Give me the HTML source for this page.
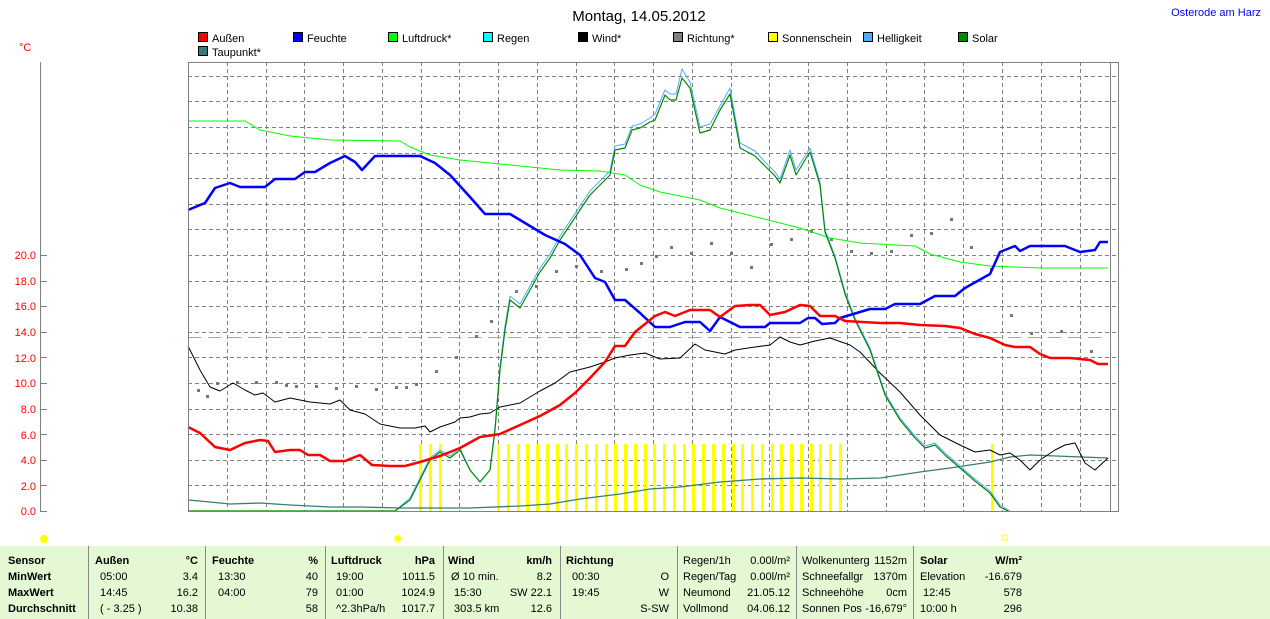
<!DOCTYPE html>
<html><head><meta charset="utf-8"><style>
body{margin:0;width:1270px;height:619px;background:#fff;overflow:hidden;font-family:"Liberation Sans",sans-serif;position:relative}
.t{position:absolute;font-size:11px;white-space:nowrap;line-height:16px}
.b{font-weight:bold}
.r{text-align:right}
#panel{position:absolute;left:0;top:546px;width:1270px;height:73px;background:#e4f8d4}
.sep{position:absolute;top:546px;width:1px;height:73px;background:#888}
</style></head><body>
<svg width="1270" height="546" style="position:absolute;left:0;top:0" font-family="Liberation Sans, sans-serif">
<text x="639" y="21" font-size="15" text-anchor="middle" fill="#000">Montag, 14.05.2012</text>
<text x="1261" y="16" font-size="11" text-anchor="end" fill="#0000ff">Osterode am Harz</text>
<text x="19" y="51" font-size="11" fill="#f00">°C</text>
<g font-size="11" fill="#000">
<rect x="198.5" y="32.5" width="9" height="9" fill="#f00" stroke="#000"/><text x="212" y="42">Außen</text>
<rect x="293.5" y="32.5" width="9" height="9" fill="#00f" stroke="#000"/><text x="307" y="42">Feuchte</text>
<rect x="388.5" y="32.5" width="9" height="9" fill="#0f0" stroke="#000"/><text x="402" y="42">Luftdruck*</text>
<rect x="483.5" y="32.5" width="9" height="9" fill="#0ff" stroke="#000"/><text x="497" y="42">Regen</text>
<rect x="578.5" y="32.5" width="9" height="9" fill="#000" stroke="#000"/><text x="592" y="42">Wind*</text>
<rect x="673.5" y="32.5" width="9" height="9" fill="#808080" stroke="#000"/><text x="687" y="42">Richtung*</text>
<rect x="768.5" y="32.5" width="9" height="9" fill="#ff0" stroke="#000"/><text x="782" y="42">Sonnenschein</text>
<rect x="863.5" y="32.5" width="9" height="9" fill="#5af" stroke="#000"/><text x="877" y="42">Helligkeit</text>
<rect x="958.5" y="32.5" width="9" height="9" fill="#080" stroke="#000"/><text x="972" y="42">Solar</text>
<rect x="198.5" y="46.5" width="9" height="9" fill="#3a7a78" stroke="#000"/><text x="212" y="56">Taupunkt*</text>
</g>
<line x1="40.5" y1="62" x2="40.5" y2="512" stroke="#808080"/>
<g fill="#f00" font-size="11" text-anchor="end">
<text x="36" y="515">0.0</text><text x="36" y="490">2.0</text><text x="36" y="464">4.0</text><text x="36" y="439">6.0</text><text x="36" y="413">8.0</text><text x="36" y="387">10.0</text><text x="36" y="362">12.0</text><text x="36" y="336">14.0</text><text x="36" y="310">16.0</text><text x="36" y="285">18.0</text><text x="36" y="259">20.0</text>
</g>
<g stroke="#808080"><line x1="40" y1="511.5" x2="47" y2="511.5"/><line x1="40" y1="485.5" x2="47" y2="485.5"/><line x1="40" y1="460.5" x2="47" y2="460.5"/><line x1="40" y1="434.5" x2="47" y2="434.5"/><line x1="40" y1="409.5" x2="47" y2="409.5"/><line x1="40" y1="383.5" x2="47" y2="383.5"/><line x1="40" y1="357.5" x2="47" y2="357.5"/><line x1="40" y1="332.5" x2="47" y2="332.5"/><line x1="40" y1="306.5" x2="47" y2="306.5"/><line x1="40" y1="281.5" x2="47" y2="281.5"/><line x1="40" y1="255.5" x2="47" y2="255.5"/></g>
<g stroke="#808080" stroke-dasharray="4,3">
<path d="M227.5 62V511M266.5 62V511M304.5 62V511M343.5 62V511M382.5 62V511M421.5 62V511M459.5 62V511M498.5 62V511M537.5 62V511M576.5 62V511M614.5 62V511M653.5 62V511M692.5 62V511M731.5 62V511M769.5 62V511M808.5 62V511M847.5 62V511M886.5 62V511M924.5 62V511M963.5 62V511M1002.5 62V511M1041.5 62V511M1080.5 62V511"/>
<path d="M188 485.5H1118M188 460.5H1118M188 434.5H1118M188 409.5H1118M188 383.5H1118M188 357.5H1118M188 332.5H1118M188 306.5H1118M188 281.5H1118M188 255.5H1118M188 229.5H1118M188 204.5H1118M188 178.5H1118M188 153.5H1118M188 127.5H1118M188 101.5H1118M188 76.5H1118"/>
</g>
<line x1="188" y1="337.5" x2="1108" y2="337.5" stroke="#e88" stroke-dasharray="13,7"/>
<g fill="#ff0">
<rect x="419" y="444" width="3" height="67"/><rect x="429" y="444" width="3" height="67"/><rect x="439" y="444" width="3" height="67"/>
<rect x="497" y="444" width="3" height="67"/><rect x="507" y="444" width="3" height="67"/><rect x="517" y="444" width="3" height="67"/><rect x="526" y="444" width="3" height="67"/><rect x="536" y="444" width="3" height="67"/><rect x="546" y="444" width="3" height="67"/><rect x="556" y="444" width="3" height="67"/><rect x="565" y="444" width="3" height="67"/><rect x="575" y="444" width="3" height="67"/><rect x="585" y="444" width="3" height="67"/><rect x="595" y="444" width="3" height="67"/><rect x="605" y="444" width="3" height="67"/><rect x="614" y="444" width="3" height="67"/><rect x="624" y="444" width="3" height="67"/><rect x="634" y="444" width="3" height="67"/><rect x="644" y="444" width="3" height="67"/><rect x="653" y="444" width="3" height="67"/><rect x="663" y="444" width="3" height="67"/><rect x="673" y="444" width="3" height="67"/><rect x="683" y="444" width="3" height="67"/><rect x="692" y="444" width="3" height="67"/><rect x="702" y="444" width="3" height="67"/><rect x="712" y="444" width="3" height="67"/><rect x="722" y="444" width="3" height="67"/><rect x="732" y="444" width="3" height="67"/><rect x="741" y="444" width="3" height="67"/><rect x="751" y="444" width="3" height="67"/><rect x="761" y="444" width="3" height="67"/><rect x="771" y="444" width="3" height="67"/><rect x="780" y="444" width="3" height="67"/><rect x="790" y="444" width="3" height="67"/><rect x="800" y="444" width="3" height="67"/><rect x="810" y="444" width="3" height="67"/><rect x="819" y="444" width="3" height="67"/><rect x="829" y="444" width="3" height="67"/><rect x="839" y="444" width="3" height="67"/>
<rect x="991" y="444" width="3" height="67"/>
</g>
<g fill="#777">
<rect x="197" y="389" width="3" height="3"/><rect x="206" y="395" width="3" height="3"/><rect x="216" y="382" width="3" height="3"/><rect x="236" y="381" width="3" height="3"/><rect x="255" y="381" width="3" height="3"/><rect x="275" y="381" width="3" height="3"/><rect x="285" y="384" width="3" height="3"/><rect x="295" y="385" width="3" height="3"/><rect x="315" y="385" width="3" height="3"/><rect x="335" y="387" width="3" height="3"/><rect x="355" y="385" width="3" height="3"/><rect x="375" y="388" width="3" height="3"/><rect x="395" y="386" width="3" height="3"/><rect x="405" y="386" width="3" height="3"/><rect x="415" y="383" width="3" height="3"/><rect x="435" y="370" width="3" height="3"/><rect x="455" y="356" width="3" height="3"/><rect x="475" y="335" width="3" height="3"/><rect x="490" y="320" width="3" height="3"/><rect x="515" y="290" width="3" height="3"/><rect x="535" y="285" width="3" height="3"/><rect x="555" y="270" width="3" height="3"/><rect x="575" y="265" width="3" height="3"/><rect x="600" y="270" width="3" height="3"/><rect x="625" y="268" width="3" height="3"/><rect x="640" y="262" width="3" height="3"/><rect x="655" y="255" width="3" height="3"/><rect x="670" y="246" width="3" height="3"/><rect x="690" y="252" width="3" height="3"/><rect x="710" y="242" width="3" height="3"/><rect x="730" y="252" width="3" height="3"/><rect x="750" y="266" width="3" height="3"/><rect x="770" y="243" width="3" height="3"/><rect x="790" y="238" width="3" height="3"/><rect x="810" y="230" width="3" height="3"/><rect x="830" y="238" width="3" height="3"/><rect x="850" y="250" width="3" height="3"/><rect x="870" y="252" width="3" height="3"/><rect x="890" y="250" width="3" height="3"/><rect x="910" y="234" width="3" height="3"/><rect x="930" y="232" width="3" height="3"/><rect x="950" y="218" width="3" height="3"/><rect x="970" y="246" width="3" height="3"/><rect x="990" y="268" width="3" height="3"/><rect x="1010" y="314" width="3" height="3"/><rect x="1030" y="332" width="3" height="3"/><rect x="1060" y="330" width="3" height="3"/><rect x="1090" y="350" width="3" height="3"/>
</g>
<g fill="none" stroke-linejoin="round">
<polyline stroke="#3a7a78" stroke-width="1.3" points="188,500 210,502 230,504 260,503 290,505 330,507 360,507 400,508 430,508 470,508 520,506 550,504 580,499 620,494 650,489 680,487 720,482 760,479 800,478 840,479 880,478 920,472 950,468 990,462 1010,457 1030,455 1108,458"/>
<polyline stroke="#0f0" stroke-width="1" points="188,121 245,121 260,130 290,136 330,140 400,141 410,147 430,155 460,160 520,166 560,170 600,171 625,175 640,185 660,192 700,200 720,208 760,218 800,228 830,238 860,243 915,246 930,254 960,262 990,266 1040,268 1108,268"/>
<polyline stroke="#000" stroke-width="1" points="188,346 200,370 210,387 220,391 233,383 245,390 255,395 263,393 275,402 290,398 310,402 330,404 340,400 345,405 350,410 365,414 380,424 400,428 415,428 425,426 430,432 440,427 455,422 460,418 470,417 480,414 490,413 500,407 520,403 540,391 555,383 570,372 590,367 605,362 615,358 630,355 645,353 660,359 680,358 695,344 705,350 715,352 725,354 735,350 755,347 770,345 780,337 790,342 800,345 815,341 830,338 850,345 860,352 880,373 900,392 920,415 940,435 960,445 975,452 990,450 1000,455 1010,453 1020,460 1030,470 1040,460 1055,450 1065,445 1075,443 1085,463 1095,470 1108,458"/>
<polyline stroke="#5af" stroke-width="1" points="395,511 410,498 420,478 430,458 440,450 450,456 460,448 470,470 480,482 490,470 495,428 500,366 505,326 510,296 520,304 530,286 540,268 550,254 560,236 570,221 580,206 590,191 600,181 610,171 615,146 625,144 632,126 640,124 650,118 655,114 665,90 670,94 676,94 682,69 690,82 700,127 710,124 720,106 730,88 740,143 755,151 765,162 775,172 780,179 790,150 796,170 805,156 810,148 820,182 825,230 835,256 845,292 855,318 870,348 885,393 900,418 915,436 925,446 935,443 945,453 960,466 975,479 990,491 1000,505 1010,511"/>
<polyline stroke="#080" stroke-width="1.2" points="188,511 395,511 410,500 420,480 430,460 440,452 450,458 460,450 470,470 480,482 490,470 495,430 500,370 505,330 510,300 520,308 530,290 540,272 550,258 560,240 570,225 580,210 590,195 600,185 610,175 615,150 625,148 632,130 640,128 650,122 655,120 665,95 670,100 676,100 682,78 690,88 700,133 710,130 720,110 730,94 740,148 755,156 765,166 775,176 780,183 790,155 796,175 805,160 810,152 820,185 825,232 835,258 845,294 855,320 870,350 885,395 900,420 915,438 925,448 935,445 945,455 960,468 975,481 990,493 1000,507 1008,511"/>
<polyline stroke="#00f" stroke-width="2.5" points="188,210 205,203 215,188 230,183 240,187 265,187 275,179 295,179 305,172 315,172 330,163 345,156 355,162 362,170 375,156 420,156 435,163 450,175 470,197 485,214 510,214 520,220 545,235 565,244 580,255 595,278 605,282 615,300 625,300 640,313 655,327 670,327 685,322 700,322 710,331 720,317 740,327 765,327 770,323 800,323 808,318 815,318 822,324 835,323 840,318 850,315 870,309 885,309 895,304 920,304 935,296 955,296 965,288 990,274 1000,252 1015,246 1020,251 1030,246 1045,246 1065,246 1080,252 1095,250 1100,242 1108,242"/>
<polyline stroke="#f00" stroke-width="2.5" points="188,427 200,433 215,447 230,450 245,443 260,440 268,441 275,452 290,450 300,450 308,455 320,455 330,461 345,461 360,455 372,465 390,466 405,466 420,462 440,456 460,448 480,437 500,434 520,425 540,416 560,405 575,393 590,378 605,362 615,346 625,346 635,332 645,324 655,316 665,312 675,316 690,310 710,310 720,317 735,306 750,305 760,305 770,315 785,312 800,305 810,306 820,316 835,316 845,321 880,323 900,323 920,325 945,326 960,328 975,334 990,338 1005,345 1015,347 1030,347 1040,354 1050,358 1070,358 1090,360 1098,364 1108,364"/>
</g>
<rect x="188.5" y="62.5" width="930" height="449" fill="none" stroke="#808080"/>
<line x1="1110.5" y1="62" x2="1110.5" y2="512" stroke="#808080"/>
<circle cx="44" cy="539" r="4" fill="#ff0"/>
<text x="398" y="543" font-size="12" fill="#ff0" text-anchor="middle">✹</text>
<rect x="1002" y="535" width="5" height="5" fill="none" stroke="#ff0"/>
</svg>
<div id="panel"></div>
<div class="sep" style="left:88px"></div><div class="sep" style="left:205px"></div><div class="sep" style="left:325px"></div><div class="sep" style="left:443px"></div><div class="sep" style="left:560px"></div><div class="sep" style="left:677px"></div><div class="sep" style="left:796px"></div><div class="sep" style="left:913px"></div>
<div class="t b" style="left:8px;top:553px">Sensor<br>MinWert<br>MaxWert<br>Durchschnitt</div>
<div class="t b" style="left:95px;top:553px">Außen</div><div class="t b r" style="left:150px;width:48px;top:553px">°C</div>
<div class="t" style="left:100px;top:569px">05:00<br>14:45<br>( - 3.25 )</div><div class="t r" style="left:150px;width:48px;top:569px">3.4<br>16.2<br>10.38</div>
<div class="t b" style="left:212px;top:553px">Feuchte</div><div class="t b r" style="left:270px;width:48px;top:553px">%</div>
<div class="t" style="left:218px;top:569px">13:30<br>04:00</div><div class="t r" style="left:270px;width:48px;top:569px">40<br>79<br>58</div>
<div class="t b" style="left:331px;top:553px">Luftdruck</div><div class="t b r" style="left:385px;width:50px;top:553px">hPa</div>
<div class="t" style="left:336px;top:569px">19:00<br>01:00<br>^2.3hPa/h</div><div class="t r" style="left:385px;width:50px;top:569px">1011.5<br>1024.9<br>1017.7</div>
<div class="t b" style="left:448px;top:553px">Wind</div><div class="t b r" style="left:500px;width:52px;top:553px">km/h</div>
<div class="t" style="left:451px;top:569px">Ø 10 min.<br>&nbsp;15:30<br>&nbsp;303.5 km</div><div class="t r" style="left:500px;width:52px;top:569px">8.2<br>SW 22.1<br>12.6</div>
<div class="t b" style="left:566px;top:553px">Richtung</div>
<div class="t" style="left:572px;top:569px">00:30<br>19:45</div><div class="t r" style="left:620px;width:49px;top:569px">O<br>W<br>S-SW</div>
<div class="t" style="left:683px;top:553px">Regen/1h<br>Regen/Tag<br>Neumond<br>Vollmond</div><div class="t r" style="left:740px;width:50px;top:553px">0.00l/m²<br>0.00l/m²<br>21.05.12<br>04.06.12</div>
<div class="t" style="left:802px;top:553px">Wolkenunterg<br>Schneefallgr<br>Schneehöhe<br>Sonnen Pos</div><div class="t r" style="left:850px;width:57px;top:553px">1152m<br>1370m<br>0cm<br>-16,679°</div>
<div class="t" style="left:920px;top:553px"><b>Solar</b><br>Elevation<br>&nbsp;12:45<br>10:00 h</div><div class="t r" style="left:970px;width:52px;top:553px"><b>W/m²</b><br>-16.679<br>578<br>296</div>
</body></html>
